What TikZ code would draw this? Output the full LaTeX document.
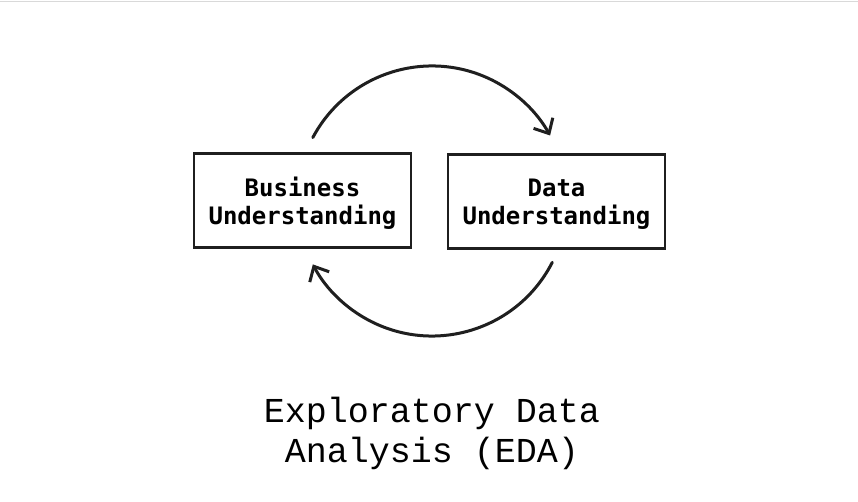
\documentclass[tikz,border=0pt]{standalone}
\usepackage{fontspec}
\newfontfamily\boxfont{DejaVu Sans Mono}
\newfontfamily\titlefont{Liberation Mono}
\usetikzlibrary{arrows.meta}
\tikzset{
  stagebox/.style={draw=black!88, line width=2.2pt, minimum width=217pt, minimum height=94pt,
    inner sep=0pt},
  stagetext/.style={align=center, font=\boxfont\bfseries\fontsize{24}{28}\selectfont, inner sep=0pt},
  cyclearrow/.style={draw=black!88, line width=3pt, line cap=round,
    -{Straight Barb[length=12pt,width=22pt,line width=3pt]}},
}
\begin{document}
\begin{tikzpicture}[x=1pt,y=-1pt]
\useasboundingbox (0,0) rectangle (858,502);
\fill[white] (0,0) rectangle (858,502);
\draw[black!15, line width=1.2pt] (0,1.5) -- (858,1.5);
\node[stagebox] (bu) at (302.5,200.5) {};
\node[stagebox] (du) at (556.5,201.5) {};
\node[stagetext] (butext) at ([yshift=-3pt]bu.center) {Business\\Understanding};
\node[stagetext] (dutext) at ([yshift=-3pt]du.center) {Data\\Understanding};
\coordinate (a1) at (312.8,137.6);
\coordinate (a2) at (552.3,262.3);
\draw[cyclearrow] (a1) arc[start angle=208, end angle=331, radius=135];
\draw[cyclearrow] (a2) arc[start angle=27, end angle=152, radius=135];
\node[font=\titlefont\fontsize{35}{40}\selectfont, align=center] (eda) at (432,433.5)
  {Exploratory Data\\Analysis (EDA)};
\end{tikzpicture}
\end{document}
